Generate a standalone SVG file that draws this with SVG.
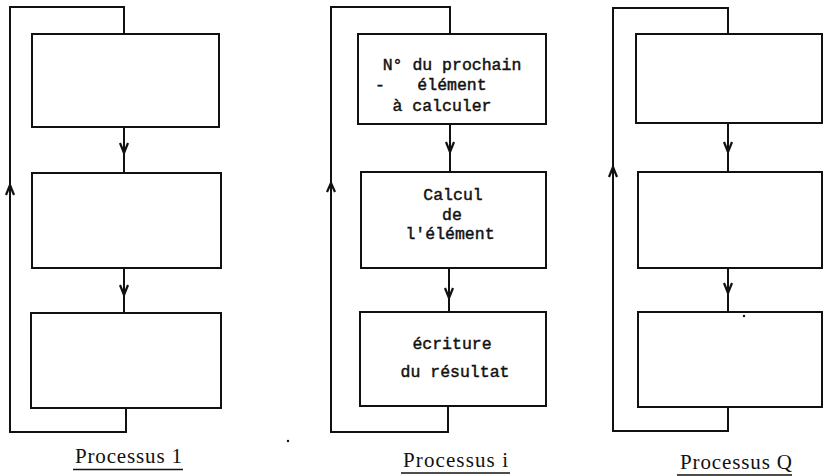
<svg xmlns="http://www.w3.org/2000/svg" width="823" height="476" viewBox="0 0 823 476">
<style>
.box{fill:#fff;stroke:#111;stroke-width:2}
.ln{fill:none;stroke:#111;stroke-width:2;stroke-linecap:square}
.ah{fill:none;stroke:#111;stroke-width:2.2;stroke-linejoin:miter}
.t{font-family:"Liberation Mono","DejaVu Sans Mono",monospace;font-size:16.5px;fill:#111;stroke:#111;stroke-width:0.45;text-anchor:middle}
.lb{font-family:"Liberation Serif","Times New Roman",serif;font-size:21px;fill:#111}
.ul{stroke:#111;stroke-width:1.5}
</style>
<rect width="823" height="476" fill="#fff"/>
<g id="connectors">
  <!-- Processus 1 -->
  <path class="ln" d="M124,34 V7 H10 V432 H126 V408"/>
  <path class="ln" d="M124,127 V173"/>
  <path class="ln" d="M124,268 V313"/>
  <path class="ah" d="M6,195 L10,185 L14,195"/>
  <path class="ah" d="M120,143 L124,153 L128,143"/>
  <path class="ah" d="M120,285 L124,295 L128,285"/>
  <!-- Processus i -->
  <path class="ln" d="M450,34 V7 H331 V432 H448 V406"/>
  <path class="ln" d="M450,124 V172"/>
  <path class="ln" d="M449,268 V312"/>
  <path class="ah" d="M327,192 L331,183 L335,192"/>
  <path class="ah" d="M446,142 L450,152 L454,142"/>
  <path class="ah" d="M445,288 L449,298 L453,288"/>
  <!-- Processus Q -->
  <path class="ln" d="M728,34 V8 H613 V431 H728 V407"/>
  <path class="ln" d="M728,123 V172"/>
  <path class="ln" d="M728,268 V312"/>
  <path class="ah" d="M609,177 L613,167 L617,177"/>
  <path class="ah" d="M724,142 L728,152 L732,142"/>
  <path class="ah" d="M724,283 L728,293 L732,283"/>
</g>
<g id="p1-box1"><rect class="box" x="32" y="34" width="187" height="93"/></g>
<g id="p1-box2"><rect class="box" x="32" y="173" width="189" height="95"/></g>
<g id="p1-box3"><rect class="box" x="31" y="313" width="190" height="95"/></g>
<g id="pi-box1"><rect class="box" x="358" y="34" width="188" height="90"/>
  <text class="t" x="452" y="70">N° du prochain</text>
  <text class="t" x="452" y="90">élément</text>
  <text class="t" x="380" y="90">-</text>
  <text class="t" x="442" y="111">à calculer</text>
</g>
<g id="pi-box2"><rect class="box" x="361" y="172" width="185" height="96"/>
  <text class="t" x="453" y="200">Calcul</text>
  <text class="t" x="452" y="220">de</text>
  <text class="t" x="450" y="239">l'élément</text>
</g>
<g id="pi-box3"><rect class="box" x="360" y="312" width="186" height="94"/>
  <text class="t" x="452" y="349">écriture</text>
  <text class="t" x="455" y="377">du résultat</text>
</g>
<g id="pq-box1"><rect class="box" x="636" y="34" width="186" height="89"/></g>
<g id="pq-box2"><rect class="box" x="638" y="172" width="184" height="96"/></g>
<g id="pq-box3"><rect class="box" x="638" y="312" width="184" height="95"/></g>
<g id="label-1">
  <text class="lb" x="75" y="463" textLength="107" lengthAdjust="spacing">Processus 1</text>
  <line class="ul" x1="73" y1="469.5" x2="183" y2="469.5"/>
</g>
<g id="label-i">
  <text class="lb" x="403" y="467" textLength="105" lengthAdjust="spacing">Processus i</text>
  <line class="ul" x1="401" y1="473" x2="510" y2="473"/>
</g>
<g id="label-q">
  <text class="lb" x="680" y="469" textLength="112" lengthAdjust="spacing">Processus Q</text>
  <line class="ul" x1="677" y1="475" x2="792" y2="475"/>
</g>
<circle cx="288" cy="441" r="1.2" fill="#111"/>
<circle cx="744" cy="316" r="1.2" fill="#111"/>
</svg>
